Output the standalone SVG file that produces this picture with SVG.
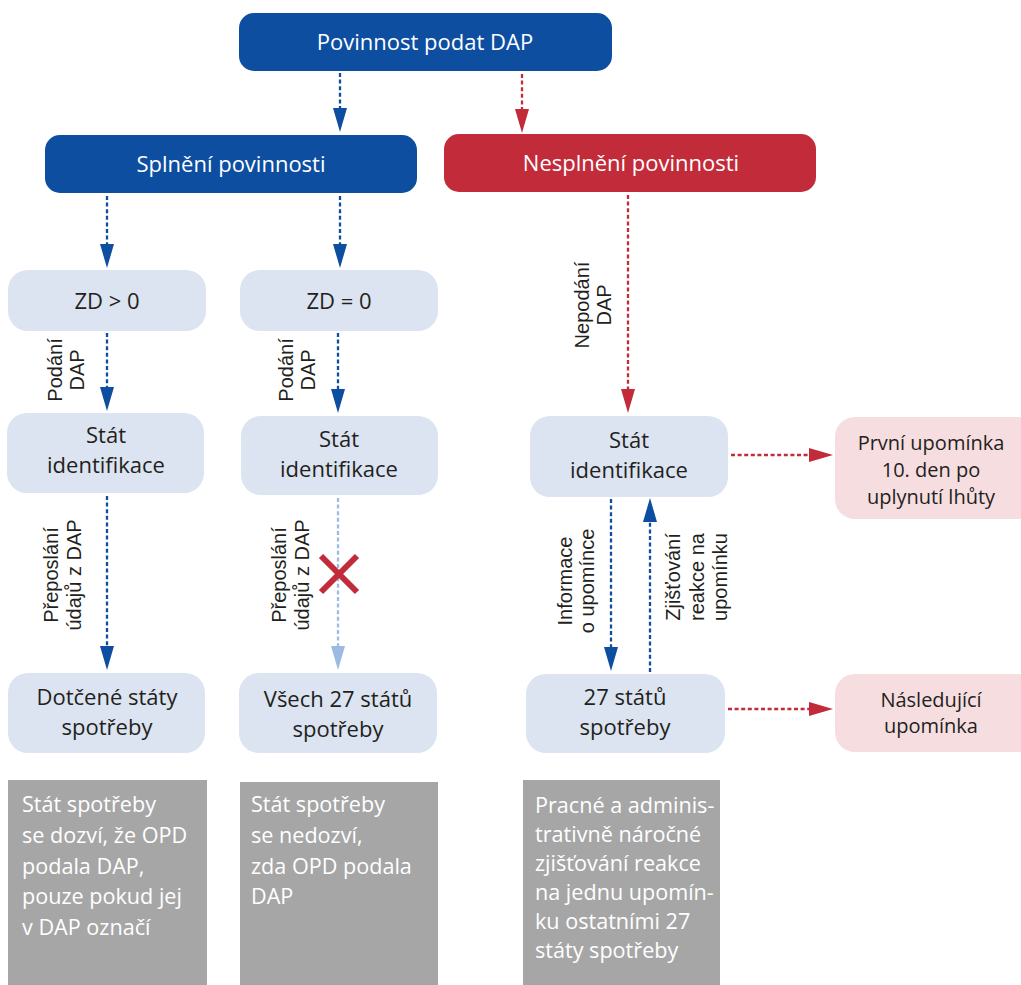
<svg xmlns="http://www.w3.org/2000/svg" width="1021" height="985" viewBox="0 0 1021 985">
<defs>
<style>
.blue{fill:#0d4ea1}
.red{fill:#c12b3a}
.light{fill:#dbe4f0}
.pink{fill:#f6dde0}
.gray{fill:#a6a6a6}
.tw{font-family:"Open Sans","Noto Sans",sans-serif;font-size:22px;fill:#ffffff;text-anchor:middle}
.tn{font-family:"Open Sans","Noto Sans",sans-serif;font-size:22px;fill:#231f20;text-anchor:middle}
.tp{font-family:"Open Sans","Noto Sans",sans-serif;font-size:20px;fill:#231f20;text-anchor:middle}
.tg{font-family:"Open Sans","Noto Sans",sans-serif;font-size:21.6px;fill:#ffffff}
.lab{font-family:"Liberation Sans",Arial,sans-serif;font-size:20px;fill:#231f20;text-anchor:middle}
.cb{stroke:#0d4ea1;stroke-width:2.3;stroke-dasharray:4 2.6;fill:none}
.cr{stroke:#c12b3a;stroke-width:2.3;stroke-dasharray:4 2.6;fill:none}
.cl{stroke:#9dbbe0;stroke-width:2.3;stroke-dasharray:4 2.6;fill:none}
</style>
<marker id="ab" markerUnits="userSpaceOnUse" markerWidth="24" markerHeight="14" refX="14" refY="7" orient="auto"><path d="M0,0 L24,7 L0,14 z" fill="#0d4ea1"/></marker>
<marker id="ar" markerUnits="userSpaceOnUse" markerWidth="24" markerHeight="14" refX="14" refY="7" orient="auto"><path d="M0,0 L24,7 L0,14 z" fill="#c12b3a"/></marker>
<marker id="al" markerUnits="userSpaceOnUse" markerWidth="24" markerHeight="14" refX="14" refY="7" orient="auto"><path d="M0,0 L24,7 L0,14 z" fill="#9dbbe0"/></marker>
</defs>
<rect width="1021" height="985" fill="#ffffff"/>

<g id="connectors">
<line class="cb" x1="340" y1="73" x2="340" y2="122" marker-end="url(#ab)"/>
<line class="cr" x1="522" y1="74" x2="522" y2="123" marker-end="url(#ar)"/>
<line class="cb" x1="107" y1="196" x2="107" y2="258" marker-end="url(#ab)"/>
<line class="cb" x1="340" y1="196" x2="340" y2="258" marker-end="url(#ab)"/>
<line class="cr" x1="628" y1="195" x2="628" y2="403" marker-end="url(#ar)"/>
<line class="cb" x1="107" y1="333" x2="107" y2="401" marker-end="url(#ab)"/>
<line class="cb" x1="338" y1="333" x2="338" y2="403" marker-end="url(#ab)"/>
<line class="cb" x1="107" y1="496" x2="107" y2="660" marker-end="url(#ab)"/>
<line class="cl" x1="338" y1="498" x2="338" y2="660" marker-end="url(#al)"/>
<line class="cb" x1="611" y1="499" x2="611" y2="661" marker-end="url(#ab)"/>
<line class="cb" x1="650" y1="672" x2="650" y2="508" marker-end="url(#ab)"/>
<line class="cr" x1="731" y1="455" x2="823" y2="455" marker-end="url(#ar)"/>
<line class="cr" x1="728" y1="709" x2="823" y2="709" marker-end="url(#ar)"/>
<g stroke="#c12b3a" stroke-width="6">
<line x1="321" y1="556" x2="357" y2="592"/>
<line x1="357" y1="556" x2="321" y2="592"/>
</g>
<text class="lab" transform="translate(0,370) rotate(-90)"><tspan x="0" y="62">Podání</tspan><tspan x="0" y="84">DAP</tspan></text>
<text class="lab" transform="translate(0,370) rotate(-90)"><tspan x="0" y="293">Podání</tspan><tspan x="0" y="315">DAP</tspan></text>
<text class="lab" transform="translate(0,305) rotate(-90)"><tspan x="0" y="589">Nepodání</tspan><tspan x="0" y="611">DAP</tspan></text>
<text class="lab" transform="translate(0,575) rotate(-90)"><tspan x="0" y="58">Přeposlání</tspan><tspan x="0" y="81">údajů z DAP</tspan></text>
<text class="lab" transform="translate(0,575) rotate(-90)"><tspan x="0" y="286">Přeposlání</tspan><tspan x="0" y="309">údajů z DAP</tspan></text>
<text class="lab" transform="translate(0,581) rotate(-90)"><tspan x="0" y="572">Informace</tspan><tspan x="0" y="594">o upomínce</tspan></text>
<text class="lab" transform="translate(0,577) rotate(-90)"><tspan x="0" y="680">Zjišťování</tspan><tspan x="0" y="704">reakce na</tspan><tspan x="0" y="727">upomínku</tspan></text>
</g>

<g id="n_povinnost">
<rect class="blue" x="239" y="13" width="373" height="58" rx="15"/>
<text class="tw" x="425" y="50">Povinnost podat DAP</text>
</g>
<g id="n_splneni">
<rect class="blue" x="45" y="135" width="372" height="58" rx="15"/>
<text class="tw" x="231" y="172">Splnění povinnosti</text>
</g>
<g id="n_nesplneni">
<rect class="red" x="444" y="134" width="372" height="58" rx="15"/>
<text class="tw" x="631" y="171">Nesplnění povinnosti</text>
</g>
<g id="n_zd_gt">
<rect class="light" x="8" y="270" width="198" height="61" rx="20"/>
<text class="tn" x="107" y="309">ZD &gt; 0</text>
</g>
<g id="n_zd_eq">
<rect class="light" x="240" y="270" width="198" height="61" rx="20"/>
<text class="tn" x="339" y="309">ZD = 0</text>
</g>
<g id="n_stat_id_1">
<rect class="light" x="7" y="413" width="197" height="80" rx="20"/>
<text class="tn" x="106" y="443">Stát</text>
<text class="tn" x="106" y="473">identifikace</text>
</g>
<g id="n_stat_id_2">
<rect class="light" x="241" y="416" width="197" height="79" rx="20"/>
<text class="tn" x="339" y="447">Stát</text>
<text class="tn" x="339" y="477">identifikace</text>
</g>
<g id="n_stat_id_3">
<rect class="light" x="530" y="416" width="198" height="81" rx="20"/>
<text class="tn" x="629" y="448">Stát</text>
<text class="tn" x="629" y="478">identifikace</text>
</g>
<g id="n_prvni">
<rect class="pink" x="835" y="417" width="210" height="102" rx="20"/>
<text class="tp" x="931" y="450">První upomínka</text>
<text class="tp" x="931" y="477">10. den po</text>
<text class="tp" x="931" y="504">uplynutí lhůty</text>
</g>
<g id="n_dotcene">
<rect class="light" x="8" y="673" width="197" height="80" rx="20"/>
<text class="tn" x="107" y="705">Dotčené státy</text>
<text class="tn" x="107" y="735">spotřeby</text>
</g>
<g id="n_vsech">
<rect class="light" x="239" y="673" width="198" height="80" rx="20"/>
<text class="tn" x="338" y="707">Všech 27 států</text>
<text class="tn" x="338" y="737">spotřeby</text>
</g>
<g id="n_27">
<rect class="light" x="526" y="674" width="199" height="79" rx="20"/>
<text class="tn" x="625" y="705">27 států</text>
<text class="tn" x="625" y="735">spotřeby</text>
</g>
<g id="n_nasledujici">
<rect class="pink" x="835" y="674" width="210" height="78" rx="20"/>
<text class="tp" x="931" y="707">Následující</text>
<text class="tp" x="931" y="733">upomínka</text>
</g>

<g id="note_1">
<rect class="gray" x="8" y="780" width="199" height="205"/>
<text class="tg"><tspan x="22" y="812">Stát spotřeby</tspan><tspan x="22" y="843">se dozví, že OPD</tspan><tspan x="22" y="874">podala DAP,</tspan><tspan x="22" y="904">pouze pokud jej</tspan><tspan x="22" y="935">v DAP označí</tspan></text>
</g>
<g id="note_2">
<rect class="gray" x="240" y="782" width="198" height="203"/>
<text class="tg"><tspan x="251" y="812">Stát spotřeby</tspan><tspan x="251" y="843">se nedozví,</tspan><tspan x="251" y="874">zda OPD podala</tspan><tspan x="251" y="904">DAP</tspan></text>
</g>
<g id="note_3">
<rect class="gray" x="523" y="780" width="197" height="205"/>
<text class="tg"><tspan x="535" y="813">Pracné a adminis-</tspan><tspan x="535" y="842">trativně náročné</tspan><tspan x="535" y="871">zjišťování reakce</tspan><tspan x="535" y="900">na jednu upomín-</tspan><tspan x="535" y="929">ku ostatními 27</tspan><tspan x="535" y="958">státy spotřeby</tspan></text>
</g>
</svg>
